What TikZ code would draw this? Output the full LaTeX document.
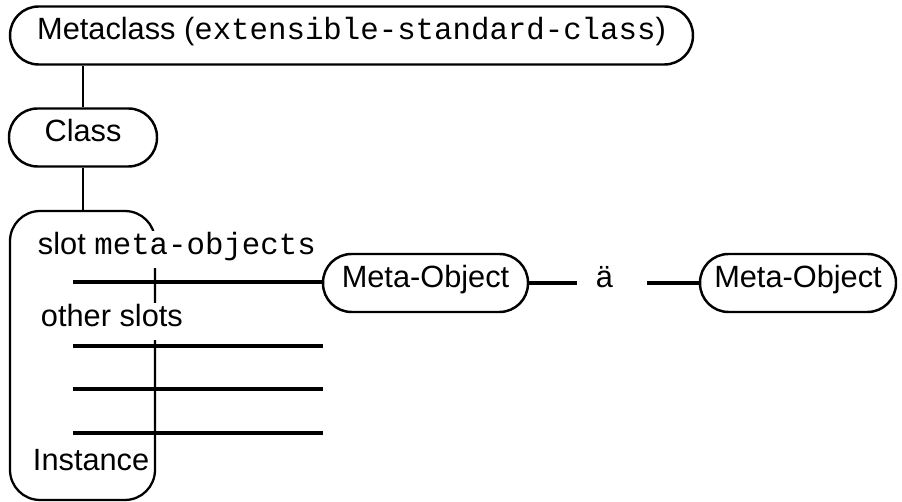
\documentclass[tikz,border=0pt]{standalone}
\usepackage{fontspec}
\setmainfont{Liberation Sans}
\setmonofont{Liberation Mono}
\tikzset{
  obj/.style={draw,line width=1.4pt,rounded corners=.57cm,minimum height=1.16cm,
    inner sep=0pt,text height=12pt,text depth=7.4pt},
  link/.style={line width=1.2pt},
  slotline/.style={line width=1.9pt},
  lbl/.style={fill=white,inner sep=1.5pt,text height=12.2pt,text depth=6pt,anchor=base west},
}
\begin{document}
\begin{tikzpicture}[x=.02cm,y=-.02cm,line join=round,font=\fontsize{17.5}{20}\selectfont]
	\useasboundingbox (0,0) rectangle (902,502);
	% class chain
	\node[obj,minimum width=13.66cm] (meta) at (351.5,35.5) {Metaclass (\texttt{extensible-standard-class})};
	\node[obj,minimum width=2.96cm] (class) at (83,137.5) {Class};
	\node[draw,line width=1.3pt,rounded corners=.6cm,minimum width=2.9cm,minimum height=5.78cm,inner sep=0pt] (inst) at (82.5,355.5) {};
	\draw[link] (class.north) -- (class.north |- meta.south);
	\draw[link] (class.south) -- (class.south |- inst.north);
	% meta objects
	\node[obj,minimum width=4.1cm] (mo1) at (425.5,283) {Meta-Object};
	\node[obj,minimum width=3.92cm] (mo2) at (798,283) {Meta-Object};
	\coordinate (ae-l) at (577,283);
	\coordinate (ae-r) at (647,283);
	\node[text height=12pt,text depth=7.4pt,inner sep=0pt] (ae) at (604.5,283) {ä};
	\draw[slotline] (mo1) -- (ae-l) (ae-r) -- (mo2);
	% slots
	\coordinate (s1) at (73,282);
	\draw[slotline] (s1) -- (s1 -| mo1.west);
	\foreach \y [count=\i from 2] in {346,389,433}{
		\coordinate (s\i) at (73,\y);
		\coordinate (e\i) at (323,\y);
		\draw[slotline] (s\i) -- (e\i);
	}
	\node[lbl] (slot) at (35,255) {slot \texttt{meta-objects}};
	\node[lbl] (other) at (38,327) {other slots};
	\node[lbl,fill=none] (instlbl) at (30,471) {Instance};
\end{tikzpicture}
\end{document}
